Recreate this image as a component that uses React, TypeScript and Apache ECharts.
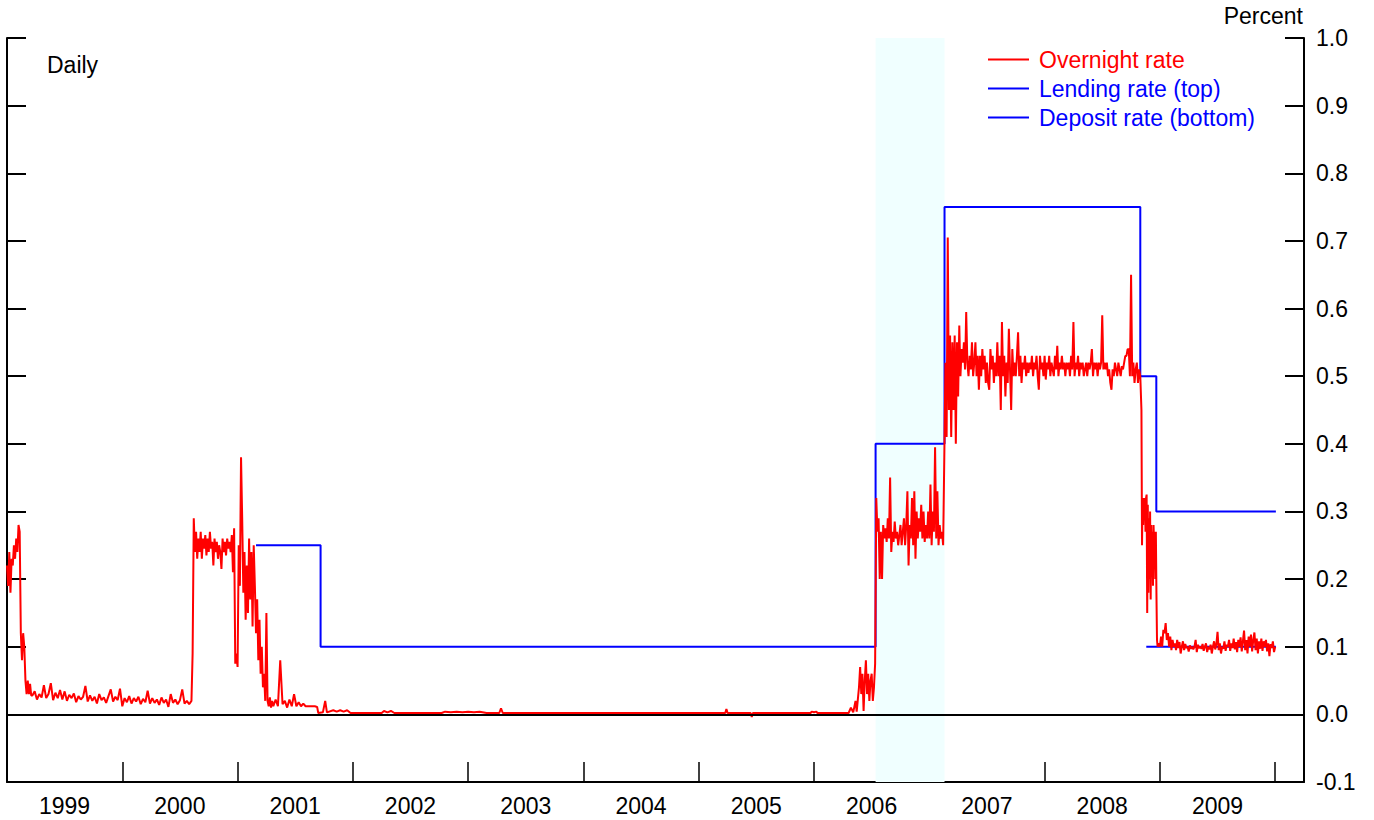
import React, { useEffect, useRef } from 'react';
import * as echarts from 'echarts';

const FONT = '"Liberation Sans", Arial, Helvetica, sans-serif';

const rate1999Start = 1999.0; // step 0.01
const rate1999 = [
  0.22, 0.19, 0.24, 0.18, 0.23, 0.22, 0.25, 0.23, 0.26, 0.24,
  0.28, 0.27, 0.12, 0.08, 0.12, 0.1, 0.05, 0.03, 0.05, 0.03,
  0.045, 0.028,
];
const rateZirp1Start = 1999.22; // step 0.02
const rateZirp1 = [
  0.028, 0.034, 0.022, 0.03, 0.025, 0.043, 0.024, 0.03, 0.046, 0.021,
  0.032, 0.024, 0.036, 0.022, 0.034, 0.02, 0.029, 0.024, 0.031, 0.018,
  0.027, 0.022, 0.026, 0.042, 0.019, 0.028, 0.02, 0.026, 0.016, 0.03,
  0.021, 0.025, 0.017, 0.027, 0.037, 0.019, 0.026, 0.021, 0.038, 0.012,
  0.024, 0.018, 0.027, 0.016, 0.024, 0.019, 0.026, 0.015, 0.023, 0.018,
  0.035, 0.016, 0.024, 0.017, 0.022, 0.014, 0.025, 0.017, 0.022, 0.011,
  0.03, 0.017, 0.022, 0.015, 0.021, 0.037, 0.016, 0.02, 0.015, 0.02,
];
const rate2000Start = 2000.61; // step 0.01
const rate2000 = [
  0.09, 0.29, 0.24, 0.27, 0.23, 0.26, 0.24, 0.27, 0.23, 0.26,
  0.245, 0.265, 0.235, 0.26, 0.24, 0.27, 0.245, 0.255, 0.22, 0.26,
  0.24, 0.255, 0.23, 0.25, 0.24, 0.215, 0.26, 0.24, 0.255, 0.235,
  0.26, 0.245, 0.255, 0.24, 0.265, 0.21, 0.275, 0.075, 0.09, 0.07,
  0.25, 0.19, 0.38, 0.29, 0.18, 0.24, 0.14, 0.22, 0.15, 0.26,
  0.17, 0.24, 0.13, 0.25, 0.19, 0.12, 0.17, 0.08, 0.14, 0.06,
  0.1, 0.04, 0.06, 0.02, 0.15, 0.02, 0.012, 0.025, 0.01, 0.02,
];
const rate2001Start = 2001.31; // step 0.02
const rate2001 = [
  0.012, 0.022, 0.012, 0.08, 0.015, 0.02, 0.01, 0.022, 0.012, 0.03,
  0.012, 0.018, 0.012, 0.016, 0.012, 0.012, 0.012, 0.012, 0.012, 0.011,
];
const rateZirp2: [number, number][] = [
  [2001.70, 0.002], [2001.74, 0.003], [2001.76, 0.02], [2001.775, 0.003], [2001.83, 0.006],
  [2001.86, 0.004], [2001.89, 0.006], [2001.92, 0.004], [2001.95, 0.006], [2001.98, 0.002],
  [2002.25, 0.002], [2002.27, 0.005], [2002.30, 0.003], [2002.33, 0.005], [2002.36, 0.002],
  [2002.77, 0.002], [2002.80, 0.004], [2002.85, 0.003], [2002.90, 0.004], [2002.95, 0.003],
  [2003.00, 0.004], [2003.05, 0.003], [2003.10, 0.004], [2003.16, 0.002],
  [2003.27, 0.002], [2003.285, 0.009], [2003.30, 0.002],
  [2005.23, 0.002], [2005.24, 0.008], [2005.25, 0.002],
  [2005.45, 0.002], [2005.46, -0.004], [2005.47, 0.002],
  [2005.97, 0.002], [2005.98, 0.004], [2006.00, 0.003], [2006.02, 0.004], [2006.03, 0.002],
  [2006.30, 0.002], [2006.32, 0.01], [2006.34, 0.003], [2006.36, 0.02], [2006.37, 0.004],
  [2006.39, 0.04], [2006.40, 0.07], [2006.41, 0.03], [2006.42, 0.06], [2006.43, 0.005],
  [2006.44, 0.05], [2006.45, 0.08], [2006.46, 0.03], [2006.47, 0.06], [2006.48, 0.02],
  [2006.49, 0.05], [2006.50, 0.06], [2006.51, 0.02], [2006.52, 0.04], [2006.53, 0.075],
];
const rate2006Start = 2006.54; // step 0.01
const rate2006 = [
  0.32, 0.27, 0.29, 0.2, 0.27, 0.2, 0.28, 0.26, 0.275, 0.255,
  0.29, 0.26, 0.35, 0.24, 0.27, 0.255, 0.285, 0.26, 0.27, 0.25,
  0.265, 0.28, 0.25, 0.27, 0.29, 0.25, 0.28, 0.33, 0.22, 0.28,
  0.26, 0.32, 0.25, 0.33, 0.23, 0.3, 0.26, 0.29, 0.27, 0.31,
  0.26, 0.3, 0.255, 0.28, 0.26, 0.3, 0.26, 0.34, 0.25, 0.3,
  0.27, 0.395, 0.26, 0.33, 0.25, 0.28, 0.26, 0.27, 0.25, 0.38,
];
const rate2007Start = 2007.14; // step 0.01
const rate2007 = [
  0.52, 0.41, 0.705, 0.45, 0.56, 0.41, 0.55, 0.45, 0.56, 0.40,
  0.55, 0.47, 0.575, 0.50, 0.54, 0.52, 0.55, 0.51, 0.595, 0.52,
  0.50, 0.53, 0.51, 0.55, 0.50, 0.52, 0.55, 0.50, 0.53, 0.48,
  0.53, 0.50, 0.54, 0.51, 0.53, 0.49, 0.52, 0.49, 0.48, 0.54,
  0.51, 0.53, 0.49, 0.52, 0.50, 0.55, 0.50, 0.53, 0.45, 0.58,
  0.50, 0.53, 0.47, 0.52, 0.49, 0.57, 0.51, 0.45, 0.54, 0.50,
  0.52, 0.50, 0.53, 0.565, 0.50, 0.53, 0.49, 0.52, 0.51, 0.53,
  0.50, 0.52, 0.505, 0.52, 0.51, 0.53, 0.50, 0.52, 0.51, 0.53,
  0.50, 0.48, 0.53, 0.51, 0.52, 0.50,
  0.53, 0.495, 0.52, 0.51, 0.53, 0.50, 0.52, 0.51, 0.50, 0.53,
  0.51, 0.545, 0.50, 0.52, 0.51, 0.53, 0.51, 0.52, 0.50, 0.52,
  0.51, 0.52, 0.50, 0.53, 0.51, 0.58, 0.50, 0.52, 0.51, 0.53,
  0.50, 0.52, 0.51, 0.52, 0.50, 0.51, 0.52, 0.50, 0.52, 0.51,
  0.52, 0.54, 0.50, 0.52, 0.51, 0.52, 0.50, 0.52, 0.51, 0.52,
  0.59, 0.51, 0.52, 0.51, 0.52, 0.50, 0.51, 0.49, 0.48, 0.51,
  0.50, 0.52, 0.51, 0.50, 0.52, 0.51, 0.50, 0.515, 0.51, 0.52,
  0.53, 0.53, 0.54, 0.54, 0.50, 0.65, 0.50, 0.52, 0.49, 0.51,
  0.52, 0.49, 0.51, 0.50,
];
const rateCutStart = 2008.84; // step 0.005
const rateCut = [
  0.45, 0.25, 0.32, 0.28, 0.32, 0.3, 0.32, 0.27, 0.32, 0.325,
  0.15, 0.31, 0.18, 0.29, 0.2, 0.3, 0.17, 0.28, 0.22, 0.27,
  0.19, 0.28, 0.25, 0.27, 0.2, 0.27, 0.18, 0.11, 0.1,
];
const rate2009Start = 2008.99; // step 0.01
const rate2009 = [
  0.105,
  0.1, 0.115, 0.1, 0.125, 0.12, 0.135, 0.11, 0.12, 0.1, 0.115,
  0.095, 0.11, 0.1, 0.105, 0.095, 0.11, 0.098, 0.107, 0.09, 0.1,
  0.108, 0.095, 0.104, 0.098, 0.1, 0.093, 0.102, 0.097, 0.1, 0.096,
  0.1, 0.11, 0.092, 0.103, 0.098, 0.1, 0.097, 0.104, 0.094, 0.1,
  0.105, 0.092, 0.1, 0.096, 0.103, 0.09, 0.1, 0.108, 0.096, 0.104,
  0.122, 0.095, 0.105, 0.09, 0.1, 0.097, 0.108, 0.094, 0.103, 0.1,
  0.11, 0.094, 0.105, 0.098, 0.112, 0.096, 0.107, 0.092, 0.11, 0.1,
  0.114, 0.093, 0.108, 0.124, 0.095, 0.11, 0.09, 0.115, 0.1, 0.118,
  0.093, 0.11, 0.121, 0.095, 0.112, 0.09, 0.108, 0.097, 0.112, 0.094,
  0.108, 0.1, 0.11, 0.093, 0.105, 0.086, 0.104, 0.098, 0.108, 0.092,
  0.1,
];

// Policy corridor: [date of change, new rate]
const lendingRate: [number, number][] = [
  [2001.16, 0.25], [2001.72, 0.1], [2006.534, 0.4], [2007.132, 0.75],
  [2008.83, 0.5], [2008.969, 0.3], [2010.006, 0.3],
];
const depositRate: [number, number][] = [[2008.882, 0.1], [2010.006, 0.1]];
const shadedPeriod = [2006.534, 2007.132];

const seg = (start: number, step: number, vals: number[]): [number, number][] =>
  vals.map((v, i) => [+(start + i * step).toFixed(4), v]);

const overnight: [number, number][] = [
  ...seg(rate1999Start, 0.01, rate1999),
  ...seg(rateZirp1Start, 0.02, rateZirp1),
  ...seg(rate2000Start, 0.01, rate2000),
  ...seg(rate2001Start, 0.02, rate2001),
  ...rateZirp2,
  ...seg(rate2006Start, 0.01, rate2006),
  ...seg(rate2007Start, 0.01, rate2007),
  ...seg(rateCutStart, 0.005, rateCut),
  ...seg(rate2009Start, 0.01, rate2009),
];

const RED = '#ff0000';
const BLUE = '#0000ff';

export default function App() {
  const ref = useRef<HTMLDivElement>(null);
  useEffect(() => {
    const chart = echarts.init(ref.current!, null, { renderer: 'svg' });
    const yCommon = {
      type: 'value' as const,
      min: -0.1,
      max: 1.0,
      interval: 0.1,
      splitLine: { show: false },
      axisLine: { show: true, onZero: false, lineStyle: { color: '#000', width: 2 } },
      axisTick: { show: true, inside: true, length: 19, lineStyle: { color: '#000', width: 2 } },
    };
    chart.setOption({
      animation: false,
      textStyle: { fontFamily: FONT },
      grid: { left: 7, right: 70, top: 38, bottom: 38, containLabel: false },
      xAxis: {
        type: 'value',
        min: 1999,
        max: 2010.25,
        interval: 1,
        splitLine: { show: false },
        axisLine: { onZero: false, lineStyle: { color: '#000', width: 2 } },
        axisTick: { inside: true, length: 20, lineStyle: { color: '#000', width: 1.5 } },
        axisLabel: {
          formatter: (v: number) => (Number.isInteger(v) && v < 2010 ? String(v) : ''),
          color: '#000',
          fontSize: 23,
          fontFamily: FONT,
          margin: 12,
          align: 'left',
          padding: [0, 0, 0, 32],
          showMinLabel: true,
          showMaxLabel: false,
          hideOverlap: false,
        },
      },
      yAxis: [
        { ...yCommon, position: 'left', axisLabel: { show: false } },
        {
          ...yCommon,
          position: 'right',
          axisLabel: {
            show: true,
            formatter: (v: number) => v.toFixed(1),
            color: '#000',
            fontSize: 23,
            fontFamily: FONT,
            margin: 12,
          },
        },
      ],
      legend: {
        orient: 'vertical',
        left: 988,
        top: 48,
        padding: 0,
        itemWidth: 41,
        itemHeight: 2,
        itemGap: 6,
        icon: 'rect',
        textStyle: { fontSize: 23, fontFamily: FONT, padding: [0, 0, 0, 5] },
        data: [
          { name: 'Overnight rate', textStyle: { color: RED } },
          { name: 'Lending rate (top)', textStyle: { color: BLUE } },
          { name: 'Deposit rate (bottom)', textStyle: { color: BLUE } },
        ],
      },
      graphic: [
        {
          type: 'text',
          left: 47,
          top: 53,
          style: { text: 'Daily', fill: '#000', font: `23px ${FONT}` },
        },
        {
          type: 'text',
          right: 71,
          top: 4,
          style: { text: 'Percent', fill: '#000', font: `23px ${FONT}` },
        },
      ],
      series: [
        {
          name: 'Lending rate (top)',
          type: 'line',
          step: 'end',
          data: lendingRate,
          showSymbol: false,
          color: BLUE,
          lineStyle: { color: BLUE, width: 2 },
          markArea: {
            silent: true,
            itemStyle: { color: '#f0ffff' },
            data: [[{ xAxis: shadedPeriod[0] }, { xAxis: shadedPeriod[1] }]],
          },
          z: 2,
        },
        {
          name: 'Deposit rate (bottom)',
          type: 'line',
          data: depositRate,
          showSymbol: false,
          color: BLUE,
          lineStyle: { color: BLUE, width: 2 },
          z: 2,
        },
        {
          name: 'Overnight rate',
          type: 'line',
          data: overnight,
          showSymbol: false,
          color: RED,
          lineStyle: { color: RED, width: 2 },
          z: 3,
          markLine: {
            silent: true,
            symbol: ['none', 'none'],
            label: { show: false },
            lineStyle: { color: '#000', width: 2, type: 'solid' },
            data: [{ yAxis: 0 }],
          },
        },
      ],
    });
    return () => chart.dispose();
  }, []);
  return (
    <div
      ref={ref}
      style={{ position: 'absolute', left: 0, top: 0, width: 1374, height: 820 }}
    />
  );
}
